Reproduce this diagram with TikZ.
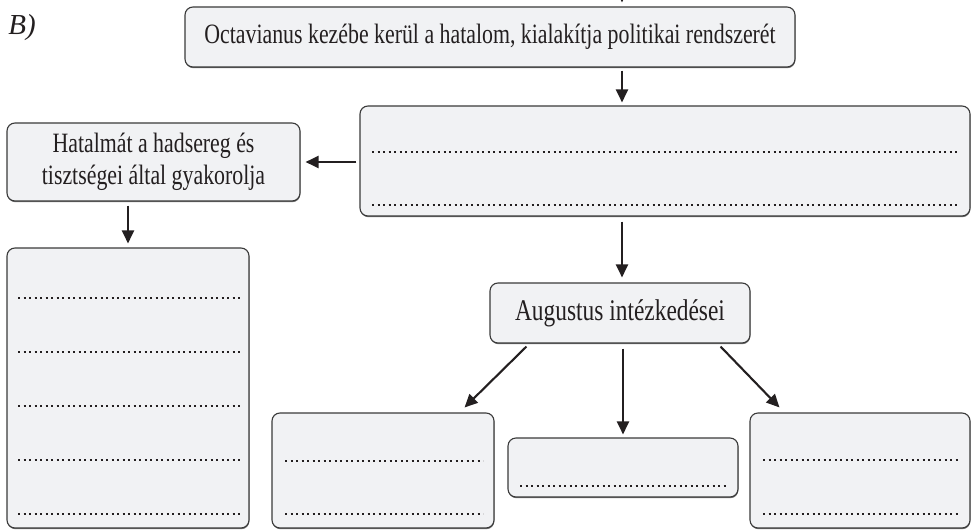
\documentclass[tikz,border=0pt]{standalone}
\usepackage{fontspec}
\setmainfont[FakeStretch=0.78]{Liberation Serif}
\newfontfamily\labfont{Liberation Serif}
\usetikzlibrary{arrows.meta,shadows}
\definecolor{boxfill}{HTML}{F1F2F4}
\definecolor{ink}{HTML}{231F20}
\definecolor{edge}{HTML}{3A3A3A}
\begin{document}
\begin{tikzpicture}[x=1pt,y=-1pt,
  box/.style={draw=edge, fill=boxfill, line width=1.1pt, rounded corners=8pt, inner sep=0pt,
    text=ink, font=\fontsize{28}{32}\selectfont, align=center,
    drop shadow={shadow xshift=0.4pt, shadow yshift=-1.2pt, fill=black!55, opacity=1}},
  arr/.style={draw=ink, line width=2.1pt, -{Triangle[width=12pt,length=13pt]}},
  dots/.style={draw=ink, line width=2pt, dash pattern=on 2pt off 3.5pt}]
\useasboundingbox (0,0) rectangle (979,532);

\node[text=ink, font=\labfont\itshape\fontsize{29}{32}\selectfont] (lab) at (22,28) {B)};

\node[box, minimum width=610pt, minimum height=60pt] (top) at (490,37)
  {Octavianus kezébe kerül a hatalom, kialakítja politikai rendszerét};
\node[box, minimum width=610pt, minimum height=110pt] (box2) at (665,161) {};
\node[box, minimum width=293pt, minimum height=78pt] (hat) at (153.5,162)
  {Hatalmát a hadsereg és\\tisztségei által gyakorolja};
\node[box, minimum width=242pt, minimum height=280pt] (tall) at (128,388) {};
\node[box, minimum width=260pt, minimum height=60pt, font=\fontsize{30}{34}\selectfont] (aug) at (620,313) {Augustus intézkedései};
\node[box, minimum width=222pt, minimum height=115pt] (bl) at (383,470.5) {};
\node[box, minimum width=230pt, minimum height=59pt] (bm) at (623,467.5) {};
\node[box, minimum width=220pt, minimum height=115pt] (br) at (860,470.5) {};

% dotted answer lines
\draw[dots] (372,152) -- (960,152);
\draw[dots] (372,205) -- (960,205);
\foreach \yy in {298,352,406,460,514} \draw[dots] (18,\yy) -- (241,\yy);
\draw[dots] (285,461) -- (483,461);
\draw[dots] (285,514) -- (483,514);
\draw[dots] (520,486) -- (728,486);
\draw[dots] (763,460) -- (959,460);
\draw[dots] (763,514) -- (959,514);

% connectors
\coordinate (cx) at (622,0);
\coordinate (incoming) at (622,-30);
\draw[arr, shorten >=4pt] (incoming) -- (incoming |- top.north);
\draw[arr, shorten <=3pt, shorten >=3pt] (cx |- top.south) -- (cx |- box2.north);
\draw[arr, shorten <=3pt, shorten >=5pt] (box2.west |- hat.east) -- (hat.east);
\draw[arr, shorten <=4pt, shorten >=4pt] (tall.north |- hat.south) -- (tall.north);
\draw[arr, shorten <=5pt, shorten >=5pt] (cx |- box2.south) -- (cx |- aug.north);
\draw[arr] ([shift={(37,3)}]aug.south west) -- ([shift={(-30,-5)}]bl.north east);
\draw[arr, shorten <=5pt, shorten >=3pt] (bm.north |- aug.south) -- (bm.north);
\draw[arr] ([shift={(-30,3)}]aug.south east) -- ([shift={(30,-5)}]br.north west);
\end{tikzpicture}
\end{document}
